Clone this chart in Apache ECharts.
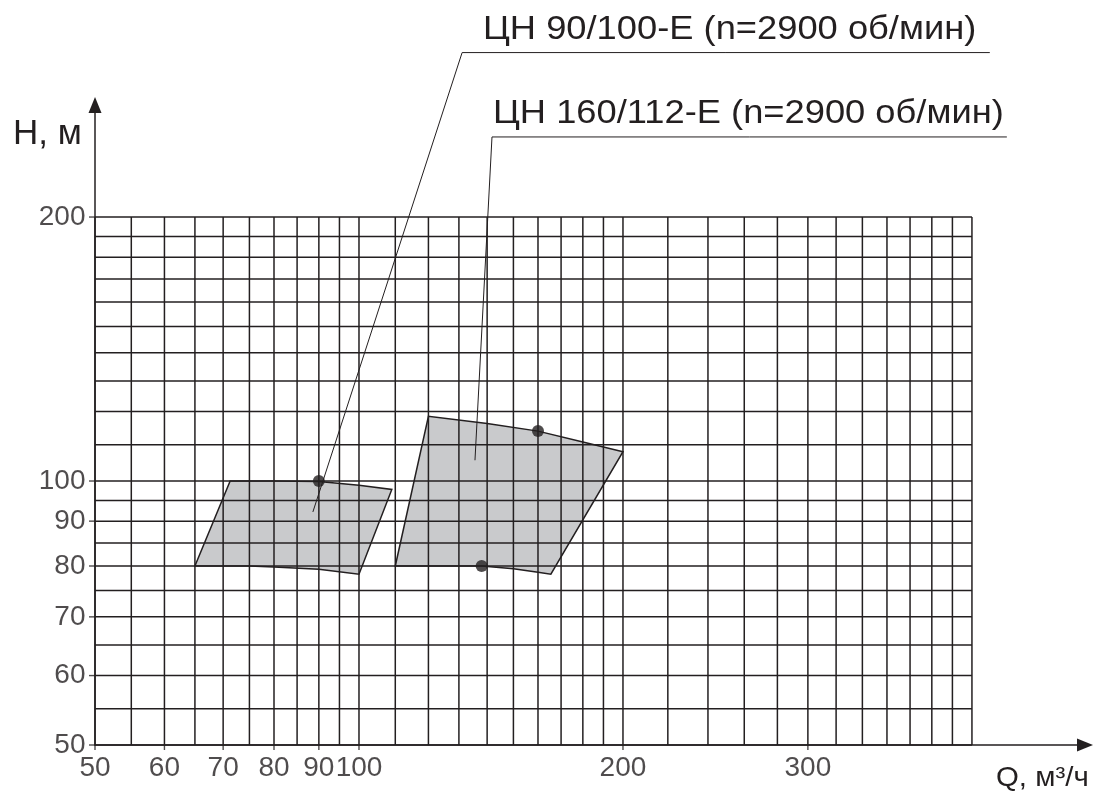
<!DOCTYPE html>
<html>
<head>
<meta charset="utf-8">
<title>ЦН 90/100-Е, ЦН 160/112-Е</title>
<script src="https://cdn.jsdelivr.net/npm/echarts@6/dist/echarts.min.js"></script>
<style>
	html, body { margin: 0; padding: 0; background: #fff; }
	#chart { width: 1093px; height: 792px; }
</style>
</head>
<body>
<div id="chart"></div>
<script>
	// сетка логарифмической бумаги, Q (м3/ч) и H (м)
	var xGridValues = [50, 55, 60, 65, 70, 75, 80, 85, 90, 95, 100, 110, 120, 130, 140, 150, 160, 170, 180, 190, 200,
		225, 250, 275, 300, 325, 350, 375, 400, 425, 450, 475, 500];
	var yGridValues = [50, 55, 60, 65, 70, 75, 80, 85, 90, 95, 100, 110, 120, 130, 140, 150, 160, 170, 180, 190, 200];

	// подписи осей (подпись "300" на рисунке стоит у линии 325)
	var xTickValues = [50, 60, 70, 80, 90, 100, 200, 325];
	var xTickLabels = ['50', '60', '70', '80', '90', '100', '200', '300'];
	var yTickValues = [50, 60, 70, 80, 90, 100, 200];
	var yTickLabels = ['50', '60', '70', '80', '90', '100', '200'];

	// рабочие зоны насосов
	var pump1Zone = [[65, 80], [71.3, 100], [80, 100], [90, 99.9], [100, 98.9], [109, 97.8],
		[100, 78.3], [90, 79.3], [80, 79.8], [75, 80]];
	var pump2Zone = [[110, 80], [120, 118.5], [140, 116.3], [160, 114], [180, 110.8], [200, 108],
		[165.5, 78.3], [160, 78.7], [150, 79.4], [138, 80]];
	var zones = [pump1Zone, pump2Zone];

	// номинальные точки
	var dutyPoints = [[90, 100], [160, 114], [138, 80]];

	// выноски к подписям
	var leader1 = [[88.6, 92.2], [131.1, 308], [524, 308]];
	var leader2 = [[135.6, 105.6], [141.8, 246.8], [548, 246.8]];
	var leaders = [leader1, leader2];

	var ink = '#231f20';
	var font = '"Liberation Sans", Arial, sans-serif';
	var xMin = 50, yMin = 50, xMax = 500, yMax = 200;
	// оси продолжаются за сетку до стрелок
	var xAxisEnd = 672.8, yAxisEnd = 268.4;

	var myChart = echarts.init(document.getElementById('chart'));

	var option = {
		animation: false,
		backgroundColor: '#fff',
		grid: {
			left: 95,
			right: 8,
			top: 105,
			bottom: 47,
			containLabel: false,
			outerBoundsMode: 'none'
		},
		xAxis: {
			type: 'log',
			logBase: 10,
			min: xMin,
			max: xAxisEnd,
			axisLine: {
				show: true,
				onZero: false,
				symbol: ['none', 'triangle'],
				symbolSize: [13, 16],
				lineStyle: { color: ink, width: 1.5 }
			},
			axisTick: { show: false },
			axisLabel: { show: false },
			splitLine: { show: false }
		},
		yAxis: {
			type: 'log',
			logBase: 10,
			min: yMin,
			max: yAxisEnd,
			axisLine: {
				show: true,
				onZero: false,
				symbol: ['none', 'triangle'],
				symbolSize: [13, 16],
				lineStyle: { color: ink, width: 1.5 }
			},
			axisTick: { show: false },
			axisLabel: { show: false },
			splitLine: { show: false }
		},
		graphic: [
			{
				type: 'text', x: 483, y: 30, scaleX: 1.1,
				style: { text: 'ЦН 90/100-Е (n=2900 об/мин)', font: '33px ' + font, fill: ink, verticalAlign: 'middle' }
			},
			{
				type: 'text', x: 493, y: 114, scaleX: 1.1,
				style: { text: 'ЦН 160/112-Е (n=2900 об/мин)', font: '33px ' + font, fill: ink, verticalAlign: 'middle' }
			},
			{
				type: 'text', x: 13, y: 134.5,
				style: { text: 'H, м', font: '35px ' + font, fill: ink, verticalAlign: 'middle' }
			},
			{
				type: 'text', x: 996, y: 778, scaleX: 1.05,
				style: { text: 'Q, м³/ч', font: '28px ' + font, fill: ink, verticalAlign: 'middle' }
			}
		],
		series: [
			{
				// зоны
				type: 'custom',
				z: 2,
				silent: true,
				renderItem: function (params, api) {
					var points = zones[params.dataIndex].map(function (p) {
						return api.coord(p);
					});
					return {
						type: 'polygon',
						shape: { points: points },
						style: { fill: '#c9cacc', stroke: ink, lineWidth: 1.5 }
					};
				},
				data: zones.map(function (z) { return z[0]; })
			},
			{
				// вертикальные линии сетки
				type: 'custom',
				z: 3,
				silent: true,
				renderItem: function (params, api) {
					var p1 = api.coord([api.value(0), yMin]);
					var p2 = api.coord([api.value(0), yMax]);
					return {
						type: 'line',
						shape: { x1: p1[0], y1: p1[1], x2: p2[0], y2: p2[1] },
						style: { stroke: ink, lineWidth: 1.5 }
					};
				},
				data: xGridValues.map(function (v) { return [v, yMin]; })
			},
			{
				// горизонтальные линии сетки
				type: 'custom',
				z: 3,
				silent: true,
				renderItem: function (params, api) {
					var p1 = api.coord([xMin, api.value(1)]);
					var p2 = api.coord([xMax, api.value(1)]);
					return {
						type: 'line',
						shape: { x1: p1[0], y1: p1[1], x2: p2[0], y2: p2[1] },
						style: { stroke: ink, lineWidth: 1.5 }
					};
				},
				data: yGridValues.map(function (v) { return [xMin, v]; })
			},
			{
				// засечки по оси Q
				type: 'scatter',
				z: 3,
				silent: true,
				clip: false,
				symbol: 'rect',
				symbolSize: [1.4, 5],
				symbolOffset: [0, 2.5],
				itemStyle: { color: ink },
				data: xTickValues.map(function (v) { return [v, yMin]; })
			},
			{
				// засечки по оси H
				type: 'scatter',
				z: 3,
				silent: true,
				clip: false,
				symbol: 'rect',
				symbolSize: [6, 1.4],
				symbolOffset: [-3, 0],
				itemStyle: { color: ink },
				data: yTickValues.map(function (v) { return [xMin, v]; })
			},
			{
				// подписи оси Q
				type: 'scatter',
				z: 4,
				silent: true,
				clip: false,
				symbolSize: 1,
				itemStyle: { color: 'rgba(0,0,0,0)' },
				label: {
					show: true,
					position: 'bottom',
					distance: 9,
					fontSize: 28,
					fontFamily: font,
					color: ink
				},
				data: xTickValues.map(function (v, i) {
					return { value: [v, yMin], label: { formatter: xTickLabels[i] } };
				})
			},
			{
				// подписи оси H
				type: 'scatter',
				z: 4,
				silent: true,
				clip: false,
				symbolSize: 1,
				itemStyle: { color: 'rgba(0,0,0,0)' },
				label: {
					show: true,
					position: 'left',
					distance: 9,
					fontSize: 28,
					fontFamily: font,
					color: ink
				},
				data: yTickValues.map(function (v, i) {
					return { value: [xMin, v], label: { formatter: yTickLabels[i] } };
				})
			},
			{
				// номинальные точки
				type: 'scatter',
				z: 5,
				silent: true,
				symbol: 'circle',
				symbolSize: 12,
				itemStyle: { color: ink },
				data: dutyPoints
			},
			{
				// выноски
				type: 'custom',
				z: 6,
				silent: true,
				renderItem: function (params, api) {
					var points = leaders[params.dataIndex].map(function (p) {
						return api.coord(p);
					});
					return {
						type: 'polyline',
						shape: { points: points },
						style: { fill: null, stroke: ink, lineWidth: 1 }
					};
				},
				data: leaders.map(function (l) { return l[0]; })
			}
		]
	};

	myChart.setOption(option);
</script>
</body>
</html>
